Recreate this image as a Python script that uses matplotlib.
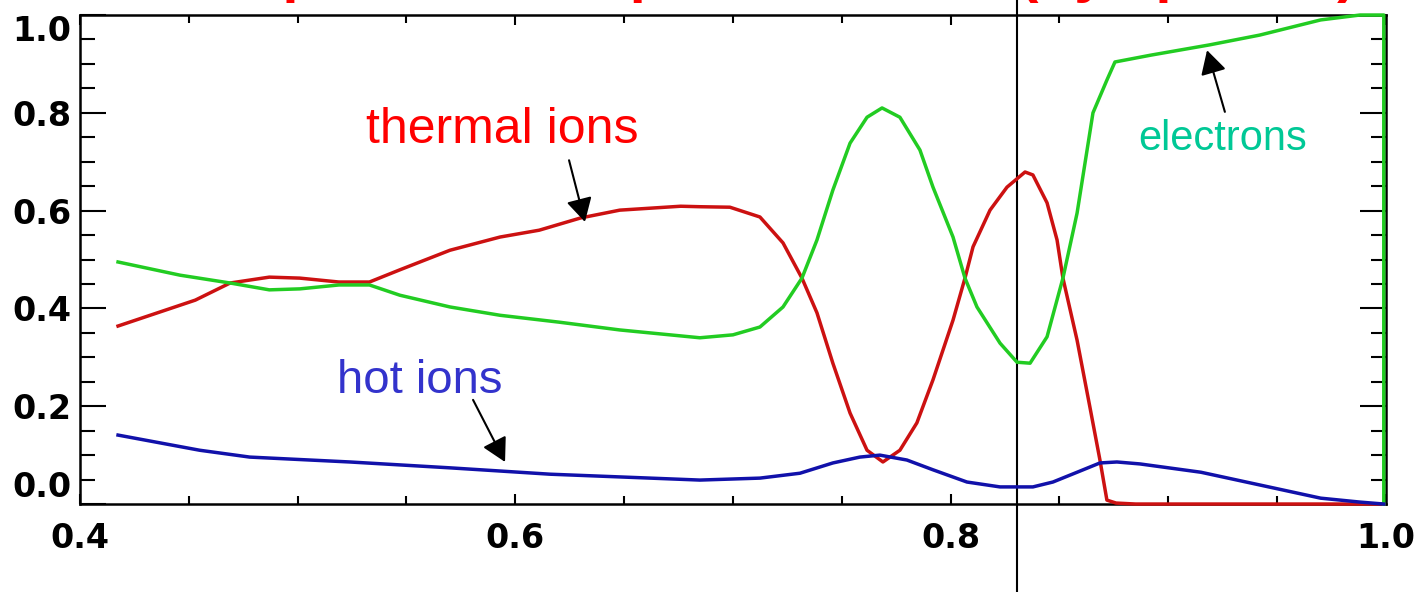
import matplotlib.pyplot as plt
from matplotlib.ticker import MultipleLocator

# thermal ions (red)
x_thermal = [0.4175, 0.453, 0.469, 0.487, 0.501, 0.519, 0.533, 0.547, 0.570, 0.593,
             0.611, 0.630, 0.648, 0.676, 0.6848, 0.6986, 0.7124, 0.7230, 0.7317, 0.7386,
             0.7459, 0.7538, 0.7616, 0.7689, 0.7767, 0.7845, 0.7919, 0.8011, 0.8066, 0.8103,
             0.8181, 0.8259, 0.8342, 0.8378, 0.8443, 0.8489, 0.8516, 0.8581, 0.8640, 0.8686,
             0.8718, 0.876, 0.885, 0.999]
y_thermal = [0.364, 0.417, 0.452, 0.464, 0.462, 0.454, 0.454, 0.479, 0.519, 0.546,
             0.560, 0.585, 0.601, 0.609, 0.608, 0.607, 0.587, 0.534, 0.462, 0.391,
             0.288, 0.186, 0.110, 0.086, 0.110, 0.166, 0.254, 0.376, 0.462, 0.526,
             0.601, 0.648, 0.679, 0.673, 0.616, 0.540, 0.462, 0.335, 0.198, 0.090,
             0.008, 0.002, 0.0, 0.0]

# electrons (green)
x_elec = [0.4175, 0.446, 0.469, 0.487, 0.501, 0.519, 0.533, 0.547, 0.570, 0.593,
          0.620, 0.648, 0.6848, 0.7000, 0.7124, 0.7230, 0.7317, 0.7386, 0.7459, 0.7538,
          0.7616, 0.7685, 0.7767, 0.7859, 0.7919, 0.8011, 0.8066, 0.8121, 0.8227, 0.8305,
          0.8365, 0.8443, 0.8516, 0.8581, 0.8654, 0.8718, 0.8755, 0.892, 0.919, 0.942,
          0.970, 0.988, 0.999, 0.999]
y_elec = [0.495, 0.468, 0.452, 0.438, 0.440, 0.448, 0.448, 0.427, 0.403, 0.386,
          0.372, 0.356, 0.340, 0.346, 0.362, 0.403, 0.462, 0.540, 0.642, 0.738,
          0.791, 0.810, 0.791, 0.724, 0.648, 0.546, 0.462, 0.403, 0.329, 0.290,
          0.288, 0.342, 0.462, 0.595, 0.800, 0.867, 0.904, 0.918, 0.939, 0.959,
          0.990, 1.0, 1.0, 0.0]

# hot ions (blue)
x_hot = [0.4175, 0.455, 0.478, 0.524, 0.570, 0.616, 0.662, 0.6848, 0.7124, 0.7308,
         0.7459, 0.7583, 0.7675, 0.7799, 0.7919, 0.8075, 0.8227, 0.8378, 0.8470, 0.8581,
         0.8686, 0.8764, 0.887, 0.915, 0.942, 0.970, 0.988, 0.999]
y_hot = [0.141, 0.110, 0.096, 0.086, 0.074, 0.061, 0.053, 0.049, 0.053, 0.063,
         0.084, 0.096, 0.100, 0.090, 0.070, 0.045, 0.035, 0.035, 0.045, 0.065,
         0.084, 0.086, 0.082, 0.065, 0.039, 0.012, 0.004, 0.0]

x_marker = 0.8305
x_ticks = [0.4, 0.6, 0.8, 1.0]
y_ticks = [0.0, 0.2, 0.4, 0.6, 0.8, 1.0]

fig = plt.figure(figsize=(14.25, 5.92), dpi=100)
ax = fig.add_axes([0.0561, 0.1486, 0.9165, 0.826])

lw = 2.5
ax.plot(x_thermal, y_thermal, color='#cc1111', lw=lw, clip_on=False, zorder=3)
ax.plot(x_elec, y_elec, color='#22cc22', lw=lw, clip_on=False, zorder=3)
ax.plot(x_hot, y_hot, color='#1111aa', lw=lw, clip_on=False, zorder=4)

ax.axvline(x_marker, ymin=-0.19, ymax=1.04, color='black', lw=1.5, clip_on=False)

ax.set_xlim(0.4, 1.0)
ax.set_ylim(0.0, 1.0)
ax.set_xticks(x_ticks)
ax.set_yticks(y_ticks)
ax.set_xticklabels(['{:.1f}'.format(v) for v in x_ticks])
ax.set_yticklabels(['{:.1f}'.format(v) for v in y_ticks])
ax.xaxis.set_minor_locator(MultipleLocator(0.05))
ax.yaxis.set_minor_locator(MultipleLocator(0.05))

ax.tick_params(axis='both', which='both', direction='in', width=1.5,
               top=True, right=True, labelsize=24, colors='black')
ax.tick_params(axis='y', which='major', length=19, pad=6)
ax.tick_params(axis='y', which='minor', length=10.5)
ax.tick_params(axis='x', which='major', length=7, pad=13)
ax.tick_params(axis='x', which='minor', length=6)
for lab in ax.get_xticklabels() + ax.get_yticklabels():
    lab.set_fontweight('bold')
    lab.set_family('DejaVu Sans')
ylabs = ax.get_yticklabels()
ylabs[0].set_va('bottom')
ylabs[-1].set_va('top')

for s in ax.spines.values():
    s.set_linewidth(1.8)

txt = dict(family='Liberation Sans', ha='center', va='baseline')
ax.text(0.5939, 0.738, 'thermal ions', color='#ff0000', fontsize=36, **txt)
ax.text(0.5562, 0.227, 'hot ions', color='#3333cc', fontsize=34, **txt)
ax.text(0.9251, 0.724, 'electrons', color='#00c896', fontsize=30, **txt)

arrow = dict(arrowstyle='-|>,head_length=0.4,head_width=0.22', mutation_scale=36,
             color='black', lw=1.5, shrinkA=0, shrinkB=0)
ax.annotate('', xy=(0.632, 0.577), xytext=(0.6247, 0.703), arrowprops=arrow)
ax.annotate('', xy=(0.5953, 0.086), xytext=(0.5806, 0.213), arrowprops=arrow)
ax.annotate('', xy=(0.9178, 0.928), xytext=(0.926, 0.802), arrowprops=arrow)

# title sits mostly above the top edge; only the descenders show
fig.text(0.9516, 1.016, 'ICRF power absorption fraction (by species)', color='#ff0000',
         fontsize=42, fontweight='bold', family='Liberation Sans',
         ha='right', va='baseline')

fig.savefig('out.png', dpi=100)
